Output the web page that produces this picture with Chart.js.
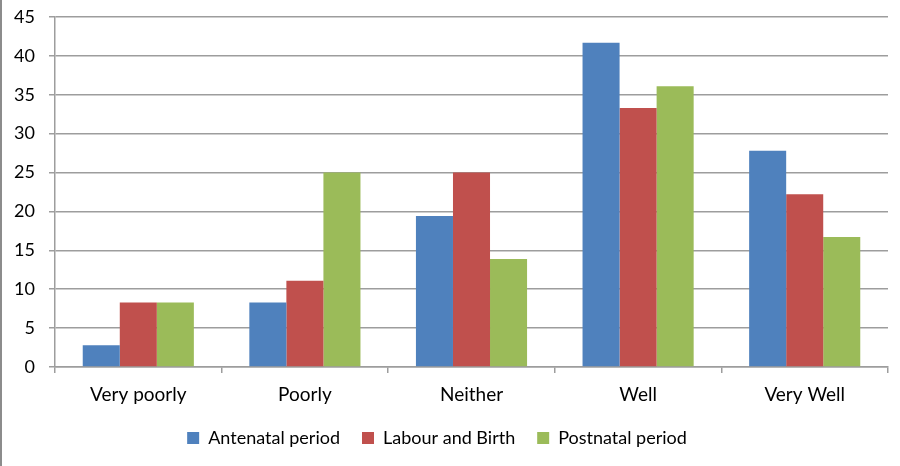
<!DOCTYPE html>
<html>
<head>
<meta charset="utf-8">
<script src="https://cdn.jsdelivr.net/npm/chart.js@4.4.1/dist/chart.umd.min.js"></script>
<style>
    html, body { margin: 0; padding: 0; background: #fff; }
    #wrap { position: relative; width: 900px; height: 466px; box-sizing: border-box; border-left: 2px solid #8c8c8c; }
</style>
</head>
<body>
<div id="wrap"><canvas id="chart" width="898" height="466"></canvas></div>
<script>
// categorias y series
const categories = ['Very poorly', 'Poorly', 'Neither', 'Well', 'Very Well'];
const antenatal = [2.8, 8.3, 19.4, 41.7, 27.8];
const labourBirth = [8.3, 11.1, 25.0, 33.3, 22.2];
const postnatal = [8.3, 25.0, 13.9, 36.1, 16.7];
const yTicks = [0, 5, 10, 15, 20, 25, 30, 35, 40, 45];

const fontFamily = 'Lato, "Open Sans", sans-serif';
const gridColor = '#9d9d9d';

// corre la leyenda un poco a la izquierda, como en el original
const legendShift = {
    id: 'legendShift',
    afterLayout: function (chart) {
        if (!chart.legend) return;
        chart.legend.left -= 8;
        chart.legend.right -= 8;
    }
};

const ctx = document.getElementById('chart').getContext('2d');
new Chart(ctx, {
    type: 'bar',
    data: {
        labels: categories,
        datasets: [
            { label: 'Antenatal period', data: antenatal, backgroundColor: '#4f81bd' },
            { label: 'Labour and Birth', data: labourBirth, backgroundColor: '#c0504d' },
            { label: 'Postnatal period', data: postnatal, backgroundColor: '#9bbb59' }
        ]
    },
    plugins: [legendShift],
    options: {
        responsive: false,
        animation: false,
        layout: { padding: { left: 0, right: 12, top: 17, bottom: 9 } },
        datasets: {
            bar: { categoryPercentage: 0.667, barPercentage: 1 }
        },
        plugins: {
            tooltip: { enabled: false },
            legend: {
                position: 'bottom',
                labels: {
                    boxWidth: 12,
                    boxHeight: 12,
                    padding: 22,
                    color: '#000',
                    font: { family: fontFamily, size: 18 }
                }
            }
        },
        scales: {
            x: {
                afterFit: function (scale) { scale.height = 40; },
                grid: { drawOnChartArea: false, drawTicks: true, tickLength: 6, color: gridColor, lineWidth: 1.5 },
                border: { color: gridColor, width: 1.5 },
                ticks: { color: '#000', padding: 10, font: { family: fontFamily, size: 19 } }
            },
            y: {
                min: 0,
                max: 45,
                afterFit: function (scale) {
                    scale.width = 53;
                    scale.paddingTop = 0;
                    scale.paddingBottom = 0;
                },
                afterBuildTicks: function (scale) {
                    scale.ticks = yTicks.map(v => ({ value: v }));
                },
                grid: { color: gridColor, tickLength: 6, lineWidth: 1.5 },
                border: { color: gridColor, width: 1.5 },
                ticks: { color: '#000', padding: 14, font: { family: fontFamily, size: 18 } }
            }
        }
    }
});
</script>
</body>
</html>
